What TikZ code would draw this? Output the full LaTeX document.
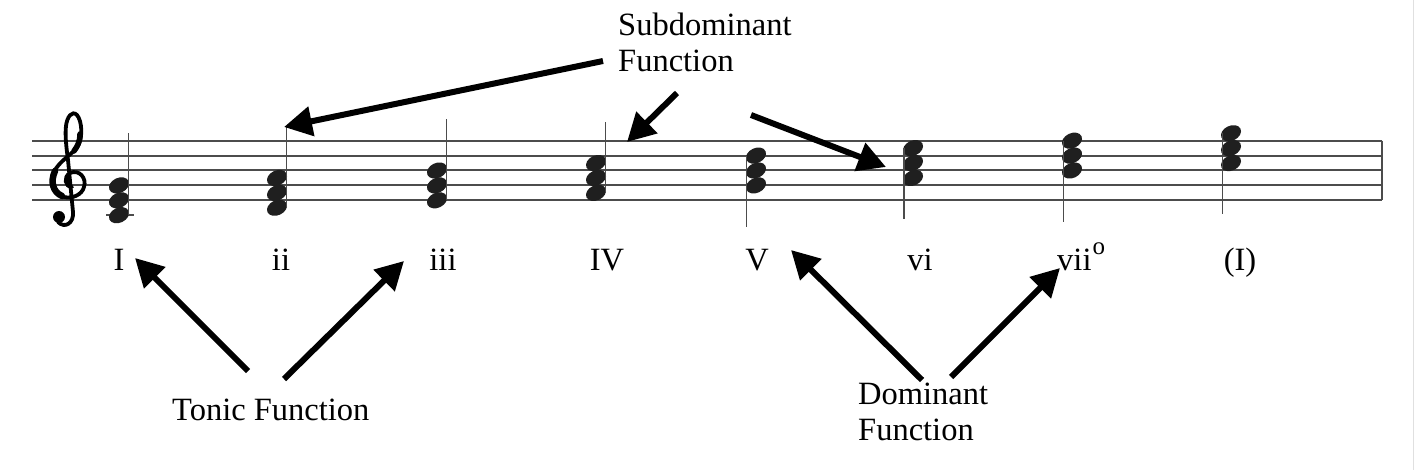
\documentclass[tikz,border=0pt]{standalone}
\usepackage{fontspec}
\setmainfont{Liberation Serif}
\usetikzlibrary{arrows.meta,shapes.geometric}
\begin{document}
\begin{tikzpicture}[x=1pt,y=-1pt]
  \tikzstyle{staffline}=[line width=2pt, color=black!70]
  \tikzstyle{notestem}=[line width=1.7pt, color=black!70]
  \tikzstyle{head}=[ellipse, fill=black!88, minimum width=21pt, minimum height=15pt, inner sep=0pt, rotate=25]
  \tikzstyle{numeral}=[font=\fontsize{32.5}{36}\selectfont, anchor=base, inner sep=0pt]
  \tikzstyle{fnlabel}=[font=\fontsize{32.5}{36}\selectfont, anchor=base west, align=left, inner sep=0pt]
  \tikzstyle{fnarrow}=[line width=6pt, -{Triangle[length=28pt,width=29pt]}]

  \useasboundingbox (0,0) rectangle (1415,470);
  \draw[black!12, line width=1pt] (1413,0) -- (1413,470);

  % staff
  \draw[staffline] (32,140.7) -- (1382,140.7);
  \draw[staffline] (32,155.6) -- (1382,155.6);
  \draw[staffline] (32,170.5) -- (1382,170.5);
  \draw[staffline] (32,185.4) -- (1382,185.4);
  \draw[staffline] (32,200.3) -- (1382,200.3);
  \draw[staffline, line width=2.5pt] (1382,140.7) -- (1382,200.3);

  % treble clef
  \draw[line width=3.8pt, line cap=round]
    (72,187) .. controls (65,187) and (63,177) .. (70,173)
    .. controls (79,169) and (87,178) .. (84,187)
    .. controls (82,195) and (72,199) .. (64,197)
    .. controls (53,194) and (49,182) .. (54,172)
    .. controls (59,161) and (73,154) .. (78,146)
    .. controls (83,137) and (82,121) .. (77,115)
    .. controls (72,110) and (67,117) .. (66,126)
    .. controls (65,134) and (66,145) .. (68,160)
    -- (73,212)
    .. controls (74,223) and (65,229) .. (58,222);
  \draw[line width=6.5pt, line cap=round]
    (62,196) .. controls (53,192) and (50,182) .. (55,171);
  \draw[line width=5.5pt, line cap=round]
    (74,151) .. controls (77,147) and (80,142) .. (80,134);
  \fill (59,217) circle (6);

  % chords
  \draw[staffline] (106,215.2) -- (134,215.2);
  \node[head] (c1a) at (119,215.2) {};
  \node[head] (c1b) at (119,200.3) {};
  \node[head] (c1c) at (119,185.4) {};
  \draw[notestem] (128.5,215.2) -- (128.5,133);

  \node[head] (c2a) at (277,207.75) {};
  \node[head] (c2b) at (277,192.85) {};
  \node[head] (c2c) at (277,177.95) {};
  \draw[notestem] (286.5,207.75) -- (286.5,127);

  \node[head] (c3a) at (437,200.3) {};
  \node[head] (c3b) at (437,185.4) {};
  \node[head] (c3c) at (437,170.5) {};
  \draw[notestem] (446.5,200.3) -- (446.5,119);

  \node[head] (c4a) at (596,192.85) {};
  \node[head] (c4b) at (596,177.95) {};
  \node[head] (c4c) at (596,163.05) {};
  \draw[notestem] (605.5,192.85) -- (605.5,122);

  \node[head] (c5a) at (756,185.4) {};
  \node[head] (c5b) at (756,170.5) {};
  \node[head] (c5c) at (756,155.6) {};
  \draw[notestem] (746.5,155.6) -- (746.5,227);

  \node[head] (c6a) at (913,177.95) {};
  \node[head] (c6b) at (913,163.05) {};
  \node[head] (c6c) at (913,148.15) {};
  \draw[notestem] (904,148.15) -- (904,219);

  \node[head] (c7a) at (1072,170.5) {};
  \node[head] (c7b) at (1072,155.6) {};
  \node[head] (c7c) at (1072,140.7) {};
  \draw[notestem] (1063.5,140.7) -- (1063.5,222);

  \node[head] (c8a) at (1231,163.05) {};
  \node[head] (c8b) at (1231,148.15) {};
  \node[head] (c8c) at (1231,133.25) {};
  \draw[notestem] (1222.5,133.25) -- (1222.5,214);

  % roman numerals
  \node[numeral] (n1) at (119,270)  {I};
  \node[numeral] (n2) at (281,270)  {ii};
  \node[numeral] (n3) at (443,270)  {iii};
  \node[numeral] (n4) at (607,270)  {IV};
  \node[numeral] (n5) at (757,270)  {V};
  \node[numeral] (n6) at (920,270)  {vi};
  \node[numeral, anchor=base west] (n7) at (1057,270)
    {vii\kern1pt\raisebox{16pt}{\fontsize{25}{25}\selectfont o}};
  \node[numeral] (n8) at (1240,270) {(I)};

  % function labels (base = last line)
  \node[fnlabel] (sub) at (618,72)  {Subdominant\\Function};
  \node[fnlabel] (ton) at (172,420) {Tonic Function};
  \node[fnlabel] (dom) at (858,440) {Dominant\\Function};

  \coordinate (sub1) at (603,61);
  \coordinate (sub2) at (677,93);
  \coordinate (sub3) at (751,115);
  \coordinate (ton1) at (248,371);
  \coordinate (ton2) at (284,379);
  \coordinate (dom1) at (922,380);
  \coordinate (dom2) at (951,377);

  \coordinate (to-ii)  at (284,127);
  \coordinate (to-IV)  at (627,142);
  \coordinate (to-vi)  at (886,167);
  \coordinate (to-I)   at (135,258);
  \coordinate (to-iii) at (404,261);
  \coordinate (to-V)   at (791,250);
  \coordinate (to-vii) at (1060,268);

  \draw[fnarrow] (sub1) -- (to-ii);
  \draw[fnarrow] (sub2) -- (to-IV);
  \draw[fnarrow] (sub3) -- (to-vi);
  \draw[fnarrow] (ton1) -- (to-I);
  \draw[fnarrow] (ton2) -- (to-iii);
  \draw[fnarrow] (dom1) -- (to-V);
  \draw[fnarrow] (dom2) -- (to-vii);

\end{tikzpicture}
\end{document}
